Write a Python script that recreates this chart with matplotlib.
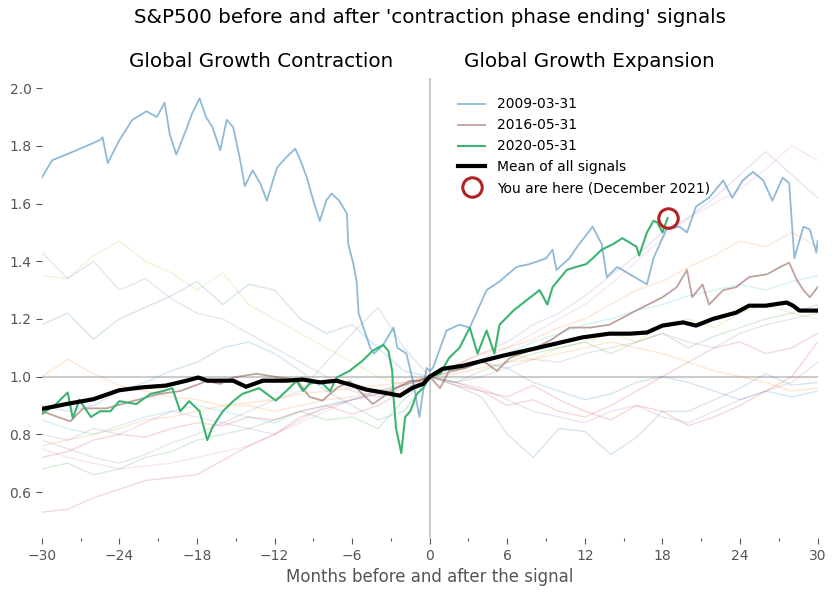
import matplotlib
matplotlib.use("Agg")
import matplotlib.pyplot as plt
import numpy as np

# ---------------- data ----------------
# highlighted series: months relative to signal, normalised price
s2009_x = [-30, -29.2, -28.1, -25.5, -25.3, -24.9, -24, -23, -21.9, -21.1, -20.5, -20.1, -19.6,
           -18.8, -18.4, -17.8, -17.3, -16.8, -16.2, -15.7, -15.2, -14.7, -14.3, -13.7, -13.1,
           -12.6, -11.8, -11.1, -10.4, -10.0, -9.5, -9.0, -8.5, -8.0, -7.6, -7.0, -6.4, -6.3,
           -5.9, -5.65, -5.5, -5.2, -4.6, -4.3, -3.6, -2.8, -2.5, -1.8, -1.3, -0.8, -0.25, 0,
           0.25, 1.3, 2.3, 3.1, 4.4, 5.4, 6.7, 7.7, 9.0, 9.5, 9.8, 10.8, 11.4, 12.6, 13.3, 13.7,
           14.5, 14.9, 16.8, 17.3, 18.3, 19.3, 19.9, 20.6, 21.6, 22.7, 23.4, 24.2, 25.0, 25.8,
           26.5, 27.3, 27.8, 28.2, 28.9, 29.4, 29.9, 30]
s2009_y = [1.69, 1.75, 1.77, 1.82, 1.83, 1.74, 1.82, 1.89, 1.92, 1.90, 1.95, 1.84, 1.77,
           1.86, 1.91, 1.965, 1.90, 1.865, 1.785, 1.89, 1.865, 1.76, 1.66, 1.715, 1.67,
           1.61, 1.725, 1.76, 1.79, 1.75, 1.69, 1.61, 1.54, 1.61, 1.635, 1.61, 1.565, 1.46,
           1.39, 1.33, 1.22, 1.18, 1.10, 1.08, 1.11, 1.17, 1.10, 1.08, 0.985, 0.86, 1.03, 1.02,
           1.03, 1.16, 1.18, 1.17, 1.30, 1.33, 1.38, 1.39, 1.41, 1.44, 1.37, 1.41, 1.45, 1.52,
           1.46, 1.345, 1.38, 1.37, 1.32, 1.41, 1.51, 1.52, 1.50, 1.59, 1.62, 1.68, 1.62, 1.68,
           1.71, 1.68, 1.61, 1.69, 1.67, 1.41, 1.52, 1.51, 1.43, 1.47]

s2016_x = [-30, -27.8, -26.8, -25, -23, -20.9, -19.3, -17.8, -17.3, -16.2, -15.2, -13.4, -11.6,
           -10.3, -9.3, -8.3, -7.2, -6.2, -5.2, -4.4, -3.6, -2.6, -1.5, -0.8, 0,
           0.8, 1.5, 2.8, 4.1, 5.2, 6.2, 7.7, 9.3, 10.8, 12.4, 13.9, 16.0, 18.0, 19.1, 19.9,
           20.3, 21.1, 21.6, 22.7, 23.7, 24.7, 26.1, 27.1, 27.8, 28.4, 28.9, 29.4, 30]
s2016_y = [0.88, 0.845, 0.89, 0.89, 0.915, 0.94, 0.95, 0.975, 0.985, 0.975, 0.997, 1.01, 0.997,
           0.99, 0.93, 0.917, 0.96, 0.985, 0.94, 0.905, 0.93, 0.96, 0.985, 0.985, 1.0,
           0.96, 1.02, 1.03, 1.055, 1.02, 1.065, 1.09, 1.125, 1.17, 1.17, 1.18, 1.23, 1.275,
           1.31, 1.37, 1.275, 1.32, 1.25, 1.30, 1.31, 1.345, 1.355, 1.38, 1.395, 1.335, 1.30,
           1.275, 1.31]

s2020_x = [-30, -28.9, -28.0, -27.6, -27.1, -26.2, -25.5, -24.7, -24, -22.7, -21.6, -20.6, -19.9,
           -19.3, -18.6, -17.8, -17.2, -16.8, -16.0, -15.2, -14.5, -13.2, -11.9, -11.1, -10.3,
           -9.8, -9.3, -8.5, -7.7, -7.2, -6.2, -5.2, -4.4, -3.6, -3.2, -2.9, -2.8, -2.6, -2.2,
           -1.9, -1.5, -1.0, -0.5, 0, 0.8, 1.5, 2.3, 3.1, 3.7, 4.4, 5.0, 5.4, 6.5, 7.5, 8.5,
           9.1, 9.5, 10.6, 11.3, 12.1, 12.6, 13.3, 14.2, 14.9, 16.0, 16.2, 16.8, 17.3, 17.6,
           18.0, 18.4]
s2020_y = [0.87, 0.905, 0.945, 0.855, 0.92, 0.86, 0.88, 0.88, 0.915, 0.905, 0.94, 0.95, 0.96,
           0.88, 0.915, 0.88, 0.78, 0.825, 0.88, 0.915, 0.94, 0.96, 0.917, 0.95, 0.985,
           0.95, 0.975, 0.985, 0.95, 0.997, 1.02, 1.055, 1.09, 1.11, 1.09, 1.02, 0.93, 0.82, 0.735,
           0.86, 0.88, 0.94, 0.96, 1.0, 1.01, 1.065, 1.10, 1.17, 1.08, 1.16, 1.08, 1.18, 1.23,
           1.265, 1.30, 1.25, 1.31, 1.37, 1.38, 1.39, 1.41, 1.44, 1.46, 1.48, 1.45, 1.42, 1.50,
           1.54, 1.535, 1.50, 1.55]

mean_x = [-30, -28.1, -26.0, -24, -22.2, -20.4, -18.8, -17.9, -17.2, -15.2, -14.2, -12.9, -11.1,
          -9.8, -8.5, -7.2, -5.9, -4.9, -3.6, -2.3, -1.3, -0.5, 0, 1.0, 2.6, 4.1, 5.7, 7.7, 9.8,
          11.8, 13.9, 15.5, 16.8, 18.0, 19.6, 20.6, 21.9, 23.7, 24.7, 26.0, 27.6, 28.1, 28.6, 30]
mean_y = [0.888, 0.905, 0.922, 0.953, 0.963, 0.969, 0.986, 0.997, 0.986, 0.986, 0.965, 0.986,
          0.986, 0.99, 0.98, 0.986, 0.969, 0.955, 0.945, 0.934, 0.962, 0.975, 1.0, 1.027, 1.038,
          1.055, 1.073, 1.093, 1.115, 1.136, 1.149, 1.149, 1.153, 1.177, 1.188, 1.177, 1.20,
          1.222, 1.246, 1.246, 1.257, 1.246, 1.229, 1.229]

# background signals, sampled every 2 months from -30 to 30
bg_months = list(range(-30, 31, 2))
bg_series = {
    "purple": [1.43, 1.34, 1.40, 1.30, 1.34, 1.27, 1.22, 1.20, 1.15, 1.10, 1.05, 1.00, 0.95, 0.93, 0.96, 1.0,
               1.04, 1.08, 1.12, 1.18, 1.22, 1.28, 1.35, 1.42, 1.50, 1.55, 1.62, 1.70, 1.78, 1.70, 1.62],
    "olive": [1.35, 1.34, 1.42, 1.47, 1.40, 1.36, 1.30, 1.36, 1.25, 1.20, 1.15, 1.10, 1.05, 1.00, 0.97, 1.0,
              1.02, 1.05, 1.08, 1.06, 1.10, 1.12, 1.15, 1.12, 1.18, 1.20, 1.17, 1.22, 1.25, 1.22, 1.20],
    "lightblue": [1.18, 1.22, 1.13, 1.20, 1.24, 1.28, 1.33, 1.25, 1.32, 1.30, 1.20, 1.15, 1.18, 1.10, 1.02, 1.0,
                  0.97, 0.93, 0.80, 0.72, 0.82, 0.81, 0.73, 0.79, 0.88, 0.88, 0.92, 0.96, 1.01, 0.97, 0.98],
    "orange": [1.00, 1.06, 1.01, 0.97, 0.95, 0.93, 0.92, 0.90, 0.90, 0.88, 0.90, 0.92, 0.93, 0.95, 0.97, 1.0,
               1.04, 1.08, 1.10, 1.13, 1.17, 1.20, 1.25, 1.30, 1.33, 1.38, 1.42, 1.47, 1.45, 1.50, 1.45],
    "red": [0.53, 0.54, 0.58, 0.61, 0.64, 0.65, 0.66, 0.71, 0.76, 0.80, 0.86, 0.89, 0.92, 0.94, 0.97, 1.0,
            0.98, 0.95, 0.93, 0.97, 0.92, 0.88, 0.85, 0.90, 0.88, 0.83, 0.86, 0.90, 0.95, 1.00, 1.12],
    "pink": [0.75, 0.72, 0.70, 0.68, 0.69, 0.70, 0.72, 0.74, 0.76, 0.80, 0.84, 0.88, 0.92, 0.95, 0.98, 1.0,
             1.02, 1.06, 1.10, 1.15, 1.20, 1.25, 1.32, 1.40, 1.48, 1.55, 1.60, 1.65, 1.72, 1.80, 1.75],
    "green": [0.68, 0.70, 0.66, 0.68, 0.72, 0.74, 0.78, 0.80, 0.82, 0.85, 0.88, 0.85, 0.86, 0.82, 0.92, 1.0,
              0.98, 1.02, 1.05, 1.08, 1.10, 1.12, 1.08, 1.12, 1.15, 1.10, 1.14, 1.17, 1.20, 1.22, 1.25],
    "gray": [0.78, 0.75, 0.72, 0.70, 0.73, 0.77, 0.80, 0.84, 0.88, 0.92, 0.95, 1.05, 1.15, 1.24, 1.10, 1.0,
             0.98, 1.00, 1.03, 1.06, 1.05, 1.08, 1.10, 1.12, 1.15, 1.12, 1.10, 1.15, 1.18, 1.20, 1.22],
    "cyan": [0.85, 0.82, 0.80, 0.83, 0.86, 0.88, 0.90, 0.88, 0.86, 0.84, 0.88, 0.90, 0.92, 0.95, 0.97, 1.0,
             1.03, 1.06, 1.08, 1.12, 1.15, 1.18, 1.20, 1.23, 1.25, 1.28, 1.30, 1.32, 1.30, 1.33, 1.35],
    "red2": [0.72, 0.74, 0.78, 0.80, 0.79, 0.82, 0.84, 0.83, 0.86, 0.85, 0.88, 0.90, 0.87, 0.90, 0.95, 1.0,
             0.97, 0.95, 0.90, 0.92, 0.88, 0.86, 0.90, 0.95, 1.00, 1.05, 1.10, 1.12, 1.08, 1.10, 1.15],
    "blue2": [0.90, 0.88, 0.90, 0.95, 0.98, 1.02, 1.05, 1.10, 1.12, 1.08, 1.02, 0.95, 0.90, 0.85, 0.88, 1.0,
              1.02, 1.05, 1.03, 0.98, 0.95, 0.92, 0.94, 0.98, 1.00, 0.98, 0.95, 0.92, 0.95, 0.93, 0.95],
    "purple2": [0.80, 0.78, 0.82, 0.80, 0.84, 0.88, 0.86, 0.84, 0.82, 0.80, 0.85, 0.90, 0.92, 0.94, 0.97, 1.0,
                0.98, 0.96, 0.92, 0.88, 0.86, 0.84, 0.88, 0.90, 0.86, 0.84, 0.88, 0.92, 0.95, 0.98, 1.05],
    "orange2": [0.76, 0.78, 0.80, 0.82, 0.85, 0.86, 0.88, 0.90, 0.91, 0.92, 0.94, 0.95, 0.96, 0.97, 0.98, 1.0,
                1.01, 1.03, 1.05, 1.06, 1.08, 1.10, 1.12, 1.10, 1.08, 1.05, 1.02, 1.00, 0.98, 0.95, 0.96],
}
bg_colors = {
    "purple": "tab:purple", "olive": "tab:olive", "lightblue": "tab:blue", "orange": "tab:orange",
    "red": "tab:red", "pink": "tab:pink", "green": "tab:green", "gray": "tab:gray",
    "cyan": "tab:cyan", "red2": "tab:red", "blue2": "tab:blue", "purple2": "tab:purple",
    "orange2": "tab:orange",
}

here_x = [18.4]
here_y = [1.55]

x_ticks = [-30, -24, -18, -12, -6, 0, 6, 12, 18, 24, 30]
y_ticks = [0.6, 0.8, 1.0, 1.2, 1.4, 1.6, 1.8, 2.0]

# ---------------- plot ----------------
fig = plt.figure(figsize=(8.36, 5.96), dpi=100)
ax = fig.add_axes([0.050, 0.097, 0.928, 0.772])

grey = "#555555"
for name, vals in bg_series.items():
    ax.plot(bg_months, vals, color=bg_colors[name], alpha=0.18, lw=1.0)

ax.axhline(1.0, color="#cccccc", lw=1.5, zorder=1)
ax.axvline(0.0, color="#cccccc", lw=1.5, zorder=1)

ax.plot(s2009_x, s2009_y, color="tab:blue", alpha=0.5, lw=1.3, label="2009-03-31")
ax.plot(s2016_x, s2016_y, color="tab:brown", alpha=0.55, lw=1.3, label="2016-05-31")
ax.plot(s2020_x, s2020_y, color="mediumseagreen", lw=1.5, label="2020-05-31")
ax.plot(mean_x, mean_y, color="black", lw=3, label="Mean of all signals")
ax.plot(here_x, here_y, "o", ms=14, mfc="none", mec="firebrick", mew=2.2,
        label="You are here (December 2021)")

ax.set_xlim(-30, 30)
ax.set_ylim(0.44, 2.035)
ax.set_xticks(x_ticks)
ax.set_xticks([-27, -21, -15, -9, -3, 3, 9, 15, 21, 27], minor=True)
ax.set_yticks(y_ticks)
ax.set_yticklabels([f"{v:.1f}" for v in y_ticks])
for s in ax.spines.values():
    s.set_visible(False)
ax.tick_params(axis="both", which="major", colors=grey, labelsize=10, length=4, width=0.8)
ax.tick_params(axis="x", which="minor", colors=grey, length=2.5, width=0.8)

ax.set_xlabel("Months before and after the signal", color=grey, fontsize=12)
ax.set_title("S&P500 before and after 'contraction phase ending' signals", fontsize=14.3, pad=40)
ax.text(0.283, 1.035, "Global Growth Contraction", transform=ax.transAxes,
        ha="center", va="center", fontsize=14.3)
ax.text(0.706, 1.035, "Global Growth Expansion", transform=ax.transAxes,
        ha="center", va="center", fontsize=14.3)

ax.legend(loc="upper left", bbox_to_anchor=(0.52, 0.985), frameon=False, fontsize=10,
          handlelength=2.0, labelspacing=0.5)

fig.savefig("out.png", dpi=100)
